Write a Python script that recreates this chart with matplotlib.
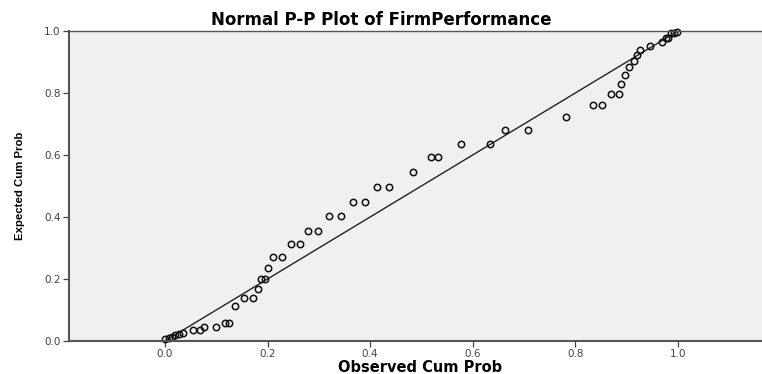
import numpy as np
import matplotlib.pyplot as plt

plt.rcParams['font.family'] = ['DejaVu Sans']

# observed cumulative probability
obs = [0.0, 0.007, 0.014, 0.020, 0.027, 0.036, 0.054, 0.069, 0.077, 0.099,
       0.118, 0.124, 0.137, 0.155, 0.171, 0.182, 0.188, 0.195, 0.200,
       0.211, 0.229, 0.246, 0.263, 0.279, 0.298, 0.319, 0.344, 0.366, 0.390,
       0.414, 0.437, 0.483, 0.519, 0.532, 0.577, 0.634, 0.663, 0.707, 0.781,
       0.834, 0.852, 0.869, 0.885, 0.890, 0.896, 0.905, 0.915, 0.920, 0.926,
       0.946, 0.969, 0.976, 0.980, 0.987, 0.992, 0.998]
# expected cumulative probability
exp_ = [0.005, 0.009, 0.013, 0.018, 0.023, 0.027, 0.034, 0.034, 0.045, 0.045,
        0.059, 0.059, 0.114, 0.139, 0.139, 0.168, 0.200, 0.200, 0.234,
        0.272, 0.272, 0.312, 0.312, 0.356, 0.356, 0.402, 0.402, 0.449, 0.449,
        0.497, 0.497, 0.544, 0.593, 0.593, 0.637, 0.637, 0.681, 0.681, 0.724,
        0.761, 0.761, 0.798, 0.798, 0.830, 0.859, 0.883, 0.904, 0.923, 0.939,
        0.953, 0.963, 0.978, 0.978, 0.993, 0.995, 0.997]
ref_line = [0.0, 1.0]
ticks = [0.0, 0.2, 0.4, 0.6, 0.8, 1.0]

fig = plt.figure(figsize=(7.62, 3.74), dpi=100)
ax = fig.add_axes([69/762, 33/374, 1 - 69/762, 310/374])
ax.set_facecolor('#f0f0f0')

ax.plot(ref_line, ref_line, color='#222222', lw=1.0)
ax.plot(obs, exp_, 'o', mfc='none', mec='#111111', ms=4.6, mew=1.1, clip_on=False)

ax.set_xlim(-0.187, 1.164)
ax.set_ylim(0, 1)
ax.set_xticks(ticks)
ax.set_yticks(ticks)
ax.set_xticklabels(['%.1f' % t for t in ticks])
ax.set_yticklabels(['%.1f' % t for t in ticks])
ax.tick_params(labelsize=7.5, colors='#444444', length=4, width=0.9)
ax.tick_params(axis='x', pad=1.5)
ax.tick_params(axis='y', pad=2)

for s in ['left', 'bottom', 'top']:
    ax.spines[s].set_color('#555555')
ax.spines['left'].set_linewidth(1.5)
ax.spines['bottom'].set_linewidth(1.5)
ax.spines['top'].set_linewidth(1.0)
ax.spines['right'].set_visible(False)

fig.text(0.5, 1 - 20/374, 'Normal P-P Plot of FirmPerformance', ha='center',
         va='center', fontsize=12, fontweight='bold')
fig.text(420/762, 1 - 367/374, 'Observed Cum Prob', ha='center', va='center',
         fontsize=10.5, fontweight='bold')
fig.text(20/762, 1 - 186/374, 'Expected Cum Prob', ha='center', va='center',
         rotation=90, fontsize=8.2, fontweight='bold',
         family=['Liberation Sans', 'DejaVu Sans'])

fig.savefig('out.png', dpi=100)
